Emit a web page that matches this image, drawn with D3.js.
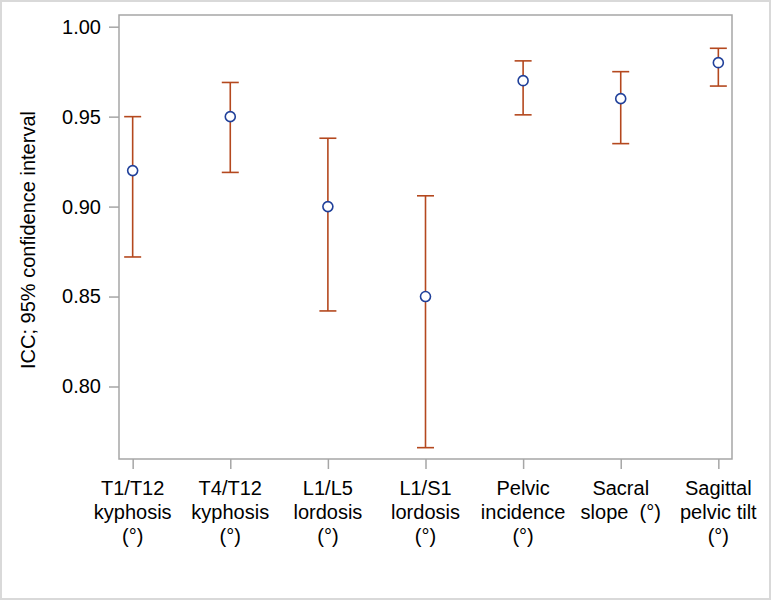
<!DOCTYPE html>
<html>
<head>
<meta charset="utf-8">
<script src="https://cdn.jsdelivr.net/npm/d3@7"></script>
<style>
  body { margin: 0; background: #fff; }
  svg { display: block; font-family: Arial, "Liberation Sans", sans-serif; }
</style>
</head>
<body>
<svg id="chart" width="771" height="600"></svg>
<script>
const categories = [
  ['T1/T12', 'kyphosis', '(°)'],
  ['T4/T12', 'kyphosis', '(°)'],
  ['L1/L5', 'lordosis', '(°)'],
  ['L1/S1', 'lordosis', '(°)'],
  ['Pelvic', 'incidence', '(°)'],
  ['Sacral', 'slope  (°)'],
  ['Sagittal', 'pelvic tilt', '(°)']
];
const icc = [0.92, 0.95, 0.90, 0.85, 0.97, 0.96, 0.98];
const lower = [0.872, 0.919, 0.842, 0.766, 0.951, 0.935, 0.967];
const upper = [0.950, 0.969, 0.938, 0.906, 0.981, 0.975, 0.988];
const yTicks = [0.80, 0.85, 0.90, 0.95, 1.00];

(() => {
  const svg = d3.select('#chart'),
      width = +svg.attr('width'),
      height = +svg.attr('height'),
      margin = {top: 15, right: 39, bottom: 141, left: 119},
      innerW = width - margin.left - margin.right,
      innerH = height - margin.top - margin.bottom;

  const barColor = '#b4481e',
      dotColor = '#20409a',
      frameColor = '#a6a6a6',
      fontSize = 20;

  // outer border
  svg.append('rect')
      .attr('x', 1).attr('y', 1)
      .attr('width', width - 2).attr('height', height - 2)
      .attr('fill', '#fff')
      .attr('stroke', '#d9d9d9')
      .attr('stroke-width', 2);

  const g = svg.append('g')
      .attr('transform', `translate(${margin.left},${margin.top})`);

  const data = categories.map((c, i) => ({
    lines: c, icc: icc[i], lo: lower[i], hi: upper[i]
  }));

  const x = d3.scalePoint()
      .domain(d3.range(data.length))
      .range([0, innerW])
      .padding(0.14);

  const y = d3.scaleLinear()
      .domain([0.7597, 1.0065])
      .range([innerH, 0]);

  // frame
  g.append('rect')
      .attr('width', innerW)
      .attr('height', innerH)
      .attr('fill', 'none')
      .attr('stroke', frameColor)
      .attr('stroke-width', 1.5);

  // y axis
  const yAxis = g.append('g')
      .call(d3.axisLeft(y).tickValues(yTicks).tickFormat(d3.format('.2f'))
          .tickSize(10).tickPadding(8));
  yAxis.select('.domain').remove();
  yAxis.selectAll('line').attr('stroke', frameColor).attr('stroke-width', 1.5);
  yAxis.selectAll('text')
      .attr('font-size', fontSize)
      .attr('font-family', 'Arial, "Liberation Sans", sans-serif')
      .attr('fill', '#000');

  // x axis
  const xAxis = g.append('g')
      .attr('transform', `translate(0,${innerH})`)
      .call(d3.axisBottom(x).tickSize(10).tickFormat(''));
  xAxis.select('.domain').remove();
  xAxis.selectAll('line').attr('stroke', frameColor).attr('stroke-width', 1.5);

  const xLabels = g.append('g')
      .selectAll('text')
      .data(data)
      .enter().append('text')
      .attr('text-anchor', 'middle')
      .attr('font-size', fontSize)
      .attr('fill', '#000')
      .attr('transform', (d, i) => `translate(${x(i)},${innerH + 36})`);

  xLabels.selectAll('tspan')
      .data(d => d.lines)
      .enter().append('tspan')
      .attr('x', 0)
      .attr('y', (d, j) => j * 24)
      .style('white-space', 'pre')
      .text(d => d);

  // y axis title
  g.append('text')
      .attr('transform', `translate(${-84},${innerH / 2 + 3})rotate(-90)`)
      .attr('text-anchor', 'middle')
      .attr('font-size', fontSize)
      .attr('fill', '#000')
      .text('ICC; 95% confidence interval');

  // error bars
  const bars = g.append('g')
      .selectAll('g')
      .data(data)
      .enter().append('g')
      .attr('stroke', barColor)
      .attr('stroke-width', 1.6);

  bars.append('line')
      .attr('x1', (d, i) => x(i)).attr('x2', (d, i) => x(i))
      .attr('y1', d => y(d.lo)).attr('y2', d => y(d.hi));

  bars.append('line')
      .attr('x1', (d, i) => x(i) - 8.5).attr('x2', (d, i) => x(i) + 8.5)
      .attr('y1', d => y(d.hi)).attr('y2', d => y(d.hi));

  bars.append('line')
      .attr('x1', (d, i) => x(i) - 8.5).attr('x2', (d, i) => x(i) + 8.5)
      .attr('y1', d => y(d.lo)).attr('y2', d => y(d.lo));

  // points
  g.append('g')
      .selectAll('circle')
      .data(data)
      .enter().append('circle')
      .attr('cx', (d, i) => x(i))
      .attr('cy', d => y(d.icc))
      .attr('r', 5)
      .attr('fill', '#fff')
      .attr('stroke', dotColor)
      .attr('stroke-width', 1.6);
})();
</script>
</body>
</html>
